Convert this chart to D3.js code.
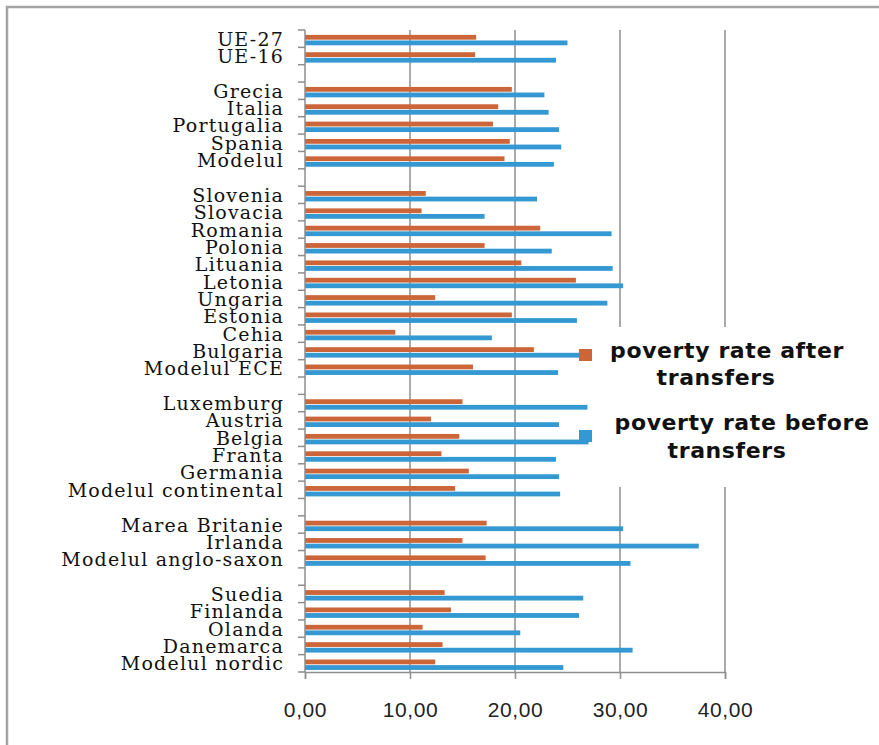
<!DOCTYPE html>
<html>
<head>
<meta charset="utf-8">
<title>Poverty rate before and after transfers</title>
<script src="https://d3js.org/d3.v7.min.js"></script>
<style>
  body { margin: 0; background: #fff; }
  svg { display: block; }
</style>
</head>
<body>
<svg width="879" height="745"></svg>
<script>
// rows top to bottom, "" = empty spacer row between groups
var categories = ["UE-27", "UE-16", "", "Grecia", "Italia", "Portugalia", "Spania", "Modelul", "",
    "Slovenia", "Slovacia", "Romania", "Polonia", "Lituania", "Letonia", "Ungaria", "Estonia", "Cehia", "Bulgaria", "Modelul ECE", "",
    "Luxemburg", "Austria", "Belgia", "Franta", "Germania", "Modelul continental", "",
    "Marea Britanie", "Irlanda", "Modelul anglo-saxon", "",
    "Suedia", "Finlanda", "Olanda", "Danemarca", "Modelul nordic"];

var afterTransfers = [16.3, 16.2, null, 19.7, 18.4, 17.9, 19.5, 19.0, null,
    11.5, 11.1, 22.4, 17.1, 20.6, 25.8, 12.4, 19.7, 8.6, 21.8, 16.0, null,
    15.0, 12.0, 14.7, 13.0, 15.6, 14.3, null,
    17.3, 15.0, 17.2, null,
    13.3, 13.9, 11.2, 13.1, 12.4];

var beforeTransfers = [25.0, 23.9, null, 22.8, 23.2, 24.2, 24.4, 23.7, null,
    22.1, 17.1, 29.2, 23.5, 29.3, 30.3, 28.8, 25.9, 17.8, 27.0, 24.1, null,
    26.9, 24.2, 27.0, 23.9, 24.2, 24.3, null,
    30.3, 37.5, 31.0, null,
    26.5, 26.1, 20.5, 31.2, 24.6];

var xTicks = [0, 10, 20, 30, 40];
var legendLabels = [["poverty rate after", "transfers"], ["poverty rate before", "transfers"]];

var orange = "#cc6639",
    blue = "#3499d2";

var svg = d3.select("svg");

var plotTop = 30, plotBottom = 672, plotLeft = 305, plotRight = 725;

var x = d3.scaleLinear().domain([0, 40]).range([plotLeft, plotRight]);
var y = d3.scaleBand().domain(d3.range(categories.length)).range([plotTop, plotBottom]);

// outer frame
svg.append("rect")
    .attr("x", 7).attr("y", 7)
    .attr("width", 900).attr("height", 800)
    .attr("fill", "none")
    .attr("stroke", "#a3a3a3")
    .attr("stroke-width", 2.5);

// gridlines
svg.append("g").selectAll("line")
    .data(xTicks.slice(1))
    .enter().append("line")
    .attr("x1", function(d) { return x(d); })
    .attr("x2", function(d) { return x(d); })
    .attr("y1", plotTop)
    .attr("y2", plotBottom)
    .attr("stroke", "#8e8e8e")
    .attr("stroke-width", 1.5);

var rows = d3.range(categories.length).filter(function(i) { return categories[i] !== ""; });

// bars
svg.append("g").selectAll("rect")
    .data(rows)
    .enter().append("rect")
    .attr("x", x(0))
    .attr("y", function(i) { return y(i) + y.bandwidth() / 2 - 3.8; })
    .attr("width", function(i) { return x(afterTransfers[i]) - x(0); })
    .attr("height", 4.8)
    .attr("fill", orange);

svg.append("g").selectAll("rect")
    .data(rows)
    .enter().append("rect")
    .attr("x", x(0))
    .attr("y", function(i) { return y(i) + y.bandwidth() / 2 + 1.8; })
    .attr("width", function(i) { return x(beforeTransfers[i]) - x(0); })
    .attr("height", 4.8)
    .attr("fill", blue);

// x axis
var xAxis = svg.append("g")
    .attr("transform", "translate(0," + plotBottom + ")")
    .call(d3.axisBottom(x)
        .tickValues(xTicks)
        .tickSize(7)
        .tickPadding(23)
        .tickFormat(function(d) { return d.toFixed(2).replace(".", ","); }));
xAxis.select(".domain").attr("stroke", "#8e8e8e").attr("stroke-width", 1.5);
xAxis.selectAll(".tick line").attr("stroke", "#8e8e8e").attr("stroke-width", 1.5);
xAxis.selectAll("text")
    .attr("fill", "#222")
    .attr("font-family", "Liberation Sans, Arial, sans-serif")
    .attr("font-size", "21px")
    .attr("letter-spacing", "0.6px");

// y axis line and ticks at row boundaries
svg.append("line")
    .attr("x1", plotLeft).attr("x2", plotLeft)
    .attr("y1", plotTop).attr("y2", plotBottom)
    .attr("stroke", "#8e8e8e")
    .attr("stroke-width", 1.5);

svg.append("g").selectAll("line")
    .data(d3.range(categories.length + 1))
    .enter().append("line")
    .attr("x1", plotLeft - 7).attr("x2", plotLeft)
    .attr("y1", function(i) { return i < categories.length ? y(i) : plotBottom; })
    .attr("y2", function(i) { return i < categories.length ? y(i) : plotBottom; })
    .attr("stroke", "#8e8e8e")
    .attr("stroke-width", 1.5);

// category labels
svg.append("g").selectAll("text")
    .data(rows)
    .enter().append("text")
    .attr("x", 284)
    .attr("y", function(i) { return y(i) + y.bandwidth() / 2 + 7; })
    .attr("text-anchor", "end")
    .attr("font-family", "DejaVu Serif, serif")
    .attr("font-size", "19px")
    .attr("letter-spacing", "1.2px")
    .attr("fill", "#111")
    .text(function(i) { return categories[i]; });

// legend
svg.append("rect")
    .attr("x", 593).attr("y", 327)
    .attr("width", 280).attr("height", 160)
    .attr("fill", "#fff");

var legend = svg.append("g");
legend.append("rect").attr("x", 579).attr("y", 349).attr("width", 13).attr("height", 12).attr("fill", orange);
legend.append("rect").attr("x", 579).attr("y", 430).attr("width", 13).attr("height", 12).attr("fill", blue);

var legendPos = [[727, 358, 716, 385], [742, 430, 727, 458]];
legendLabels.forEach(function(lines, k) {
    lines.forEach(function(t, j) {
        legend.append("text")
            .attr("x", legendPos[k][j * 2])
            .attr("y", legendPos[k][j * 2 + 1])
            .attr("text-anchor", "middle")
            .attr("font-family", "DejaVu Sans, Verdana, sans-serif")
            .attr("font-weight", "bold")
            .attr("font-size", "22px")
            .attr("letter-spacing", "0.6px")
            .attr("fill", "#111")
            .text(t);
    });
});
</script>
</body>
</html>
